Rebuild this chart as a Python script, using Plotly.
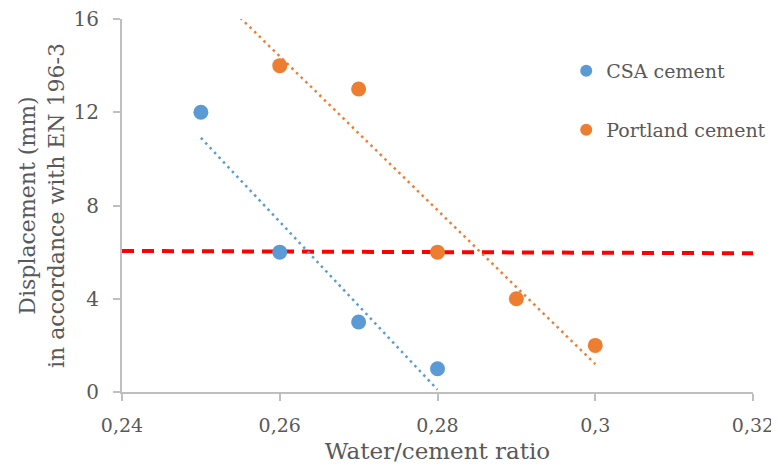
import numpy as np
import plotly.graph_objects as go

csa_x = [0.25, 0.26, 0.27, 0.28]
csa_y = [12, 6, 3, 1]
port_x = [0.26, 0.27, 0.28, 0.29, 0.30]
port_y = [14, 13, 6, 4, 2]
limit_x = [0.24, 0.32]
limit_y = [6.05, 5.95]
x_ticks = [0.24, 0.26, 0.28, 0.30, 0.32]
y_ticks = [0, 4, 8, 12, 16]

blue = "#5B9BD5"
orange = "#ED7D31"
txt = "#595959"
font = "DejaVu Serif"

def trend(xs, ys, x0, x1):
    m, b = np.polyfit(xs, ys, 1)
    xx = np.linspace(x0, x1, 60)
    return xx, m * xx + b

cx, cy = trend(csa_x, csa_y, min(csa_x), max(csa_x))
px_, py_ = trend(port_x, port_y, min(port_x) - 0.005, max(port_x))

fig = go.Figure()
fig.add_trace(go.Scatter(x=limit_x, y=limit_y, mode="lines",
                         line=dict(color="#FF0000", width=4, dash="12px,8px"),
                         showlegend=False, hoverinfo="skip"))
fig.add_trace(go.Scatter(x=cx, y=cy, mode="lines",
                         line=dict(color=blue, width=2.5, dash="2.5px,4px"),
                         showlegend=False, hoverinfo="skip"))
fig.add_trace(go.Scatter(x=px_, y=py_, mode="lines",
                         line=dict(color=orange, width=2.5, dash="2.5px,4px"),
                         showlegend=False, hoverinfo="skip"))
fig.add_trace(go.Scatter(x=csa_x, y=csa_y, mode="markers", name="CSA cement",
                         marker=dict(color=blue, size=15), legend="legend"))
fig.add_trace(go.Scatter(x=port_x, y=port_y, mode="markers", name="Portland cement",
                         marker=dict(color=orange, size=15), legend="legend2"))

leg = dict(xanchor="left", yanchor="middle",
           font=dict(family=font, size=19, color=txt),
           itemsizing="constant", bgcolor="rgba(0,0,0,0)")

fig.update_layout(
    width=771, height=459,
    margin=dict(l=114, r=26, t=11, b=75, autoexpand=False),
    plot_bgcolor="white", paper_bgcolor="white",
    font=dict(family=font, size=20, color=txt),
    legend=dict(x=0.704, y=0.8606, **leg),
    legend2=dict(x=0.704, y=0.7024, **leg),
    xaxis=dict(range=[0.24, 0.32], tickvals=x_ticks,
               ticktext=[("%g" % v).replace(".", ",") for v in x_ticks],
               showgrid=False, zeroline=False, showline=True, automargin=False,
               linecolor="#BFBFBF", linewidth=2, ticks="outside",
               tickcolor="#BFBFBF", ticklen=7, tickwidth=1.5,
               ticklabelstandoff=8, ticklabeloverflow="allow",
               tickfont=dict(size=19, color=txt),
               title=dict(text="Water/cement ratio", font=dict(size=23, color=txt), standoff=8)),
    yaxis=dict(range=[0, 16], tickvals=y_ticks,
               showgrid=False, zeroline=False, showline=True, automargin=False,
               linecolor="#BFBFBF", linewidth=2, ticks="outside",
               tickcolor="#BFBFBF", ticklen=7, tickwidth=1.5,
               ticklabelstandoff=10, ticklabeloverflow="allow",
               tickfont=dict(size=20, color=txt),
               title=dict(text="Displacement (mm)<br>in accordance with EN 196-3",
                          font=dict(size=22, color=txt), standoff=3)),
)

fig.write_html("out.html")
